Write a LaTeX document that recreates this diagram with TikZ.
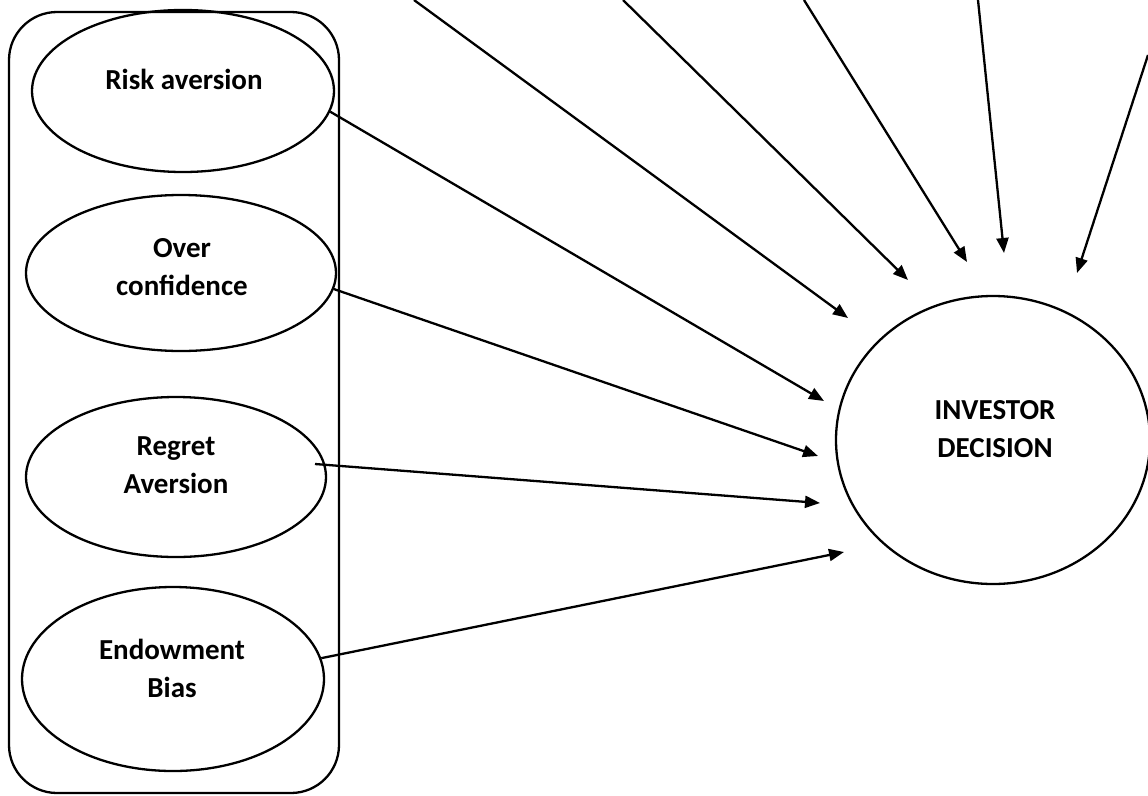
\documentclass[tikz,border=0pt]{standalone}
\usepackage{fontspec}
\setmainfont{Carlito}
\usetikzlibrary{shapes.geometric,arrows.meta}
\begin{document}
\begin{tikzpicture}[x=1pt,y=-1pt,
  bubble/.style={draw,ellipse,line width=2.3pt,inner sep=0pt},
  lbl/.style={font=\bfseries\fontsize{29}{38}\selectfont,align=center,anchor=base},
  arr/.style={line width=2.3pt,-{Triangle[length=15pt,width=12pt]}}]
\useasboundingbox (0,0) rectangle (1148,795);
% group box
\node[draw,line width=2.3pt,rounded corners=48pt,minimum width=330pt,minimum height=781pt,inner sep=0pt] (group) at (174,402.5) {};
% ellipses
\node[bubble,minimum width=302pt,minimum height=162pt] (ra) at (183,91) {};
\node[bubble,minimum width=310pt,minimum height=156pt] (oc) at (181,273) {};
\node[bubble,minimum width=300pt,minimum height=160pt] (rg) at (176,477) {};
\node[bubble,minimum width=302pt,minimum height=184pt] (eb) at (173,679) {};
\node[bubble,minimum width=314pt,minimum height=288pt] (inv) at (993,440) {};
% labels (base = baseline of last line)
\node[lbl] (ral) at (184,89) {Risk aversion};
\node[lbl] (ocl) at (182,295) {Over\\confidence};
\node[lbl] (rgl) at (176,493) {Regret\\Aversion};
\node[lbl] (ebl) at (172,697) {Endowment\\Bias};
\node[lbl] (invl) at (995,457) {INVESTOR\\DECISION};
% free ends
\coordinate (f1) at (414,0);
\coordinate (f2) at (623,0);
\coordinate (f3) at (804,0);
\coordinate (f4) at (978,0);
\coordinate (f5) at (1148,55);
\coordinate (t1) at (848,318);
\coordinate (t2) at (908,280);
\coordinate (t3) at (967,262);
\coordinate (t4) at (1004,253);
\coordinate (t5) at (1077,273);
\coordinate (tra) at (824,401);
\coordinate (toc) at (818,456);
\coordinate (trg) at (820,503);
\coordinate (teb) at (844,552);
\coordinate (srg) at (315,464);
% arrows
\draw[arr] (f1) -- (t1);
\draw[arr] (f2) -- (t2);
\draw[arr] (f3) -- (t3);
\draw[arr] (f4) -- (t4);
\draw[arr] (f5) -- (t5);
\draw[arr] (ra.-8) -- (tra);
\draw[arr] (oc.-6) -- (toc);
\draw[arr] (srg) -- (trg);
\draw[arr] (eb.8) -- (teb);
\end{tikzpicture}
\end{document}
